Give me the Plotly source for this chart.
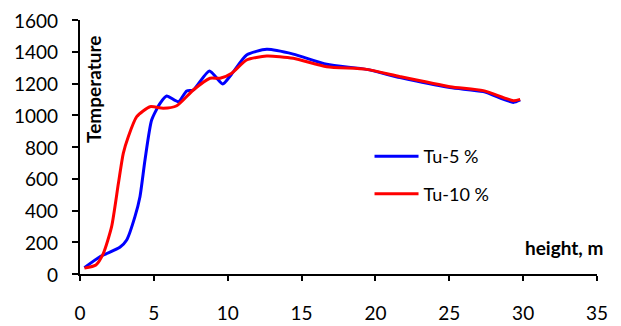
import plotly.graph_objects as go

# Tu-5 % series
x_tu5 = [0.3, 1.35, 2.7, 3.16, 3.72, 4.06, 4.4, 4.85, 5.42, 5.87, 6.66, 7.22, 7.67, 8.76, 9.66, 10.27, 11.28, 12.64, 14.44, 16.7, 19.4, 21.67, 25.05, 27.3, 29.34, 29.8]
y_tu5 = [40, 109, 168, 214, 361, 487, 718, 970, 1075, 1121, 1085, 1153, 1159, 1279, 1197, 1260, 1380, 1415, 1385, 1321, 1289, 1237, 1174, 1149, 1081, 1096]

# Tu-10 % series
x_tu10 = [0.3, 1.08, 1.58, 2.14, 2.6, 2.93, 3.27, 3.84, 4.74, 5.64, 6.55, 7.67, 8.8, 9.48, 10.27, 11.28, 12.64, 14.44, 16.7, 19.4, 21.67, 25.05, 27.3, 29.34, 29.8]
y_tu10 = [37, 57, 130, 298, 571, 760, 865, 991, 1054, 1044, 1060, 1159, 1233, 1233, 1265, 1348, 1373, 1359, 1306, 1289, 1243, 1180, 1155, 1092, 1100]

x_ticks = [0, 5, 10, 15, 20, 25, 30, 35]
y_ticks = [0, 200, 400, 600, 800, 1000, 1200, 1400, 1600]

FONT = "Lato"

fig = go.Figure()
fig.add_trace(go.Scatter(x=x_tu5, y=y_tu5, mode="lines", name="Tu-5 %",
                         line=dict(color="#0000FF", width=3, shape="spline", smoothing=0.6),
                         legendgroup="a"))
fig.add_trace(go.Scatter(x=x_tu10, y=y_tu10, mode="lines", name="Tu-10 %",
                         line=dict(color="#FF0000", width=3, shape="spline", smoothing=0.6),
                         legendgroup="b"))

# y tick labels placed on the y scale (set further from the axis, as in the reference)
y_label_annots = [
    dict(text=str(v), x=-0.038, y=v, xref="paper", yref="y",
         xanchor="right", yanchor="middle", showarrow=False,
         font=dict(family=FONT, size=19, color="black"))
    for v in y_ticks
]

fig.update_layout(
    width=613, height=318,
    margin=dict(l=72, r=24, t=12, b=52, autoexpand=False),
    paper_bgcolor="white", plot_bgcolor="white",
    font=dict(family=FONT, size=19, color="black"),
    showlegend=True,
    legend=dict(x=0.56, y=0.535, xanchor="left", yanchor="top",
                bgcolor="rgba(0,0,0,0)", tracegroupgap=11, itemwidth=44,
                font=dict(family=FONT, size=18)),
    xaxis=dict(range=[0, 35], tickvals=x_ticks, showgrid=False, zeroline=False,
               showline=True, linecolor="black", linewidth=1.5, automargin=False,
               ticks="outside", ticklen=5, tickcolor="black", tickwidth=1.5,
               ticklabelstandoff=16, ticklabeloverflow="allow", tickfont=dict(size=19)),
    yaxis=dict(range=[0, 1600], tickvals=y_ticks, showgrid=False, zeroline=False,
               showline=True, linecolor="black", linewidth=1.5, automargin=False,
               ticks="outside", ticklen=6, tickcolor="black", tickwidth=1.5,
               showticklabels=False),
    annotations=y_label_annots + [
        dict(text="<b>Temperature</b>", x=0.027, y=0.947, xref="paper", yref="paper",
             xanchor="center", yanchor="top", textangle=-90, showarrow=False,
             font=dict(family=FONT, size=19)),
        dict(text="<b>height, m</b>", x=1.015, y=0.105, xref="paper", yref="paper",
             xanchor="right", yanchor="middle", showarrow=False,
             font=dict(family=FONT, size=19)),
    ],
)

fig.write_html("out.html")
